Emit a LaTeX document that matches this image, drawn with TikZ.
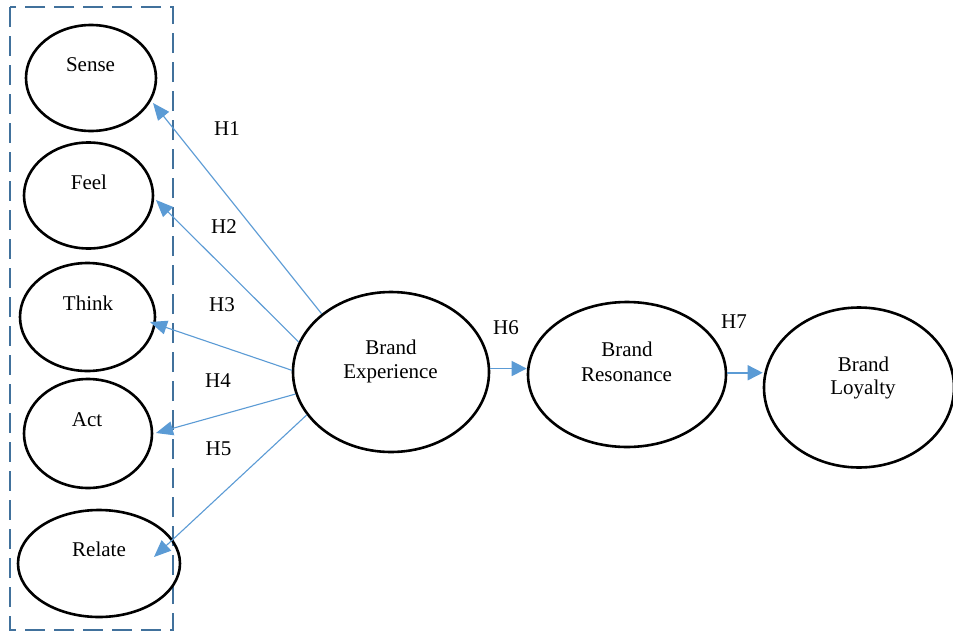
\documentclass[tikz,border=0pt]{standalone}
\usepackage{fontspec}
\setmainfont{Liberation Serif}
\usetikzlibrary{arrows.meta,calc,shapes.geometric}
\definecolor{arrowblue}{RGB}{91,155,213}
\definecolor{boxblue}{RGB}{65,113,156}
\begin{document}
\begin{tikzpicture}[x=1pt,y=-1pt,
  oval/.style={draw=black,line width=2.6pt,ellipse,inner sep=0pt},
  lbl/.style={font=\fontsize{21}{24}\selectfont,inner sep=0pt,anchor=base},
  hx/.style={draw=arrowblue,line width=1.1pt,-{Triangle[length=17pt,width=14pt]},arrowblue},
  hy/.style={draw=arrowblue,line width=1.5pt,-{Triangle[length=15pt,width=15pt]},arrowblue},
  group/.style={draw=boxblue,line width=2.5pt,dash pattern=on 20pt off 9pt}]
\useasboundingbox (0,0) rectangle (953,632);
\fill[white] (0,0) rectangle (953,632);
% dashed group box
\draw[group] (10,7) rectangle (173,630);
% ellipses
\node[oval,minimum width=130pt,minimum height=106pt] (sense) at (91,78) {};
\node[oval,minimum width=129pt,minimum height=106pt] (feel) at (88.5,195.5) {};
\node[oval,minimum width=135pt,minimum height=108pt] (think) at (87.5,317) {};
\node[oval,minimum width=128pt,minimum height=109pt] (act) at (88,433.5) {};
\node[oval,minimum width=162pt,minimum height=107pt] (relate) at (99,563.5) {};
\node[oval,minimum width=196pt,minimum height=160pt] (be) at (391,372) {};
\node[oval,minimum width=198pt,minimum height=145pt] (res) at (627,374.5) {};
\node[oval,minimum width=190pt,minimum height=160pt] (loy) at (859,387.5) {};
% texts
\node[lbl] (senseT) at (90.5,71) {Sense};
\node[lbl] (feelT) at (89,189) {Feel};
\node[lbl] (thinkT) at (88,310) {Think};
\node[lbl] (actT) at (87,426) {Act};
\node[lbl] (relateT) at (99,556) {Relate};
\node[lbl] (beT1) at (391,354) {Brand};
\node[lbl] (beT2) at (390.5,378) {Experience};
\node[lbl] (resT1) at (627,356) {Brand};
\node[lbl] (resT2) at (626.5,381) {Resonance};
\node[lbl] (loyT1) at (863.5,371) {Brand};
\node[lbl] (loyT2) at (863,394) {Loyalty};
% arrows
\draw[hx] (be.140) -- ($(sense)+(62,25)$);
\draw[hx] (be.162.5) -- ($(feel)+(67.5,4.5)$);
\draw[hx] (be.179.5) -- ($(think)+(62.5,5)$);
\draw[hx] (be.193.3) -- ($(act)+(68,-0.5)$);
\draw[hx] (be.207.4) -- ($(relate)+(55,-6.5)$);
\draw[hy] (be.2) -- (be.2 -| res.west);
\draw[hy] (res.1) -- (res.1 -| loy.west);
% hypothesis labels
\node[lbl] (h1) at (227,135) {H1};
\node[lbl] (h2) at (224,233) {H2};
\node[lbl] (h3) at (222,311) {H3};
\node[lbl] (h4) at (218,387) {H4};
\node[lbl] (h5) at (218.5,455) {H5};
\node[lbl] (h6) at (506,334) {H6};
\node[lbl] (h7) at (734,328) {H7};
\end{tikzpicture}
\end{document}
